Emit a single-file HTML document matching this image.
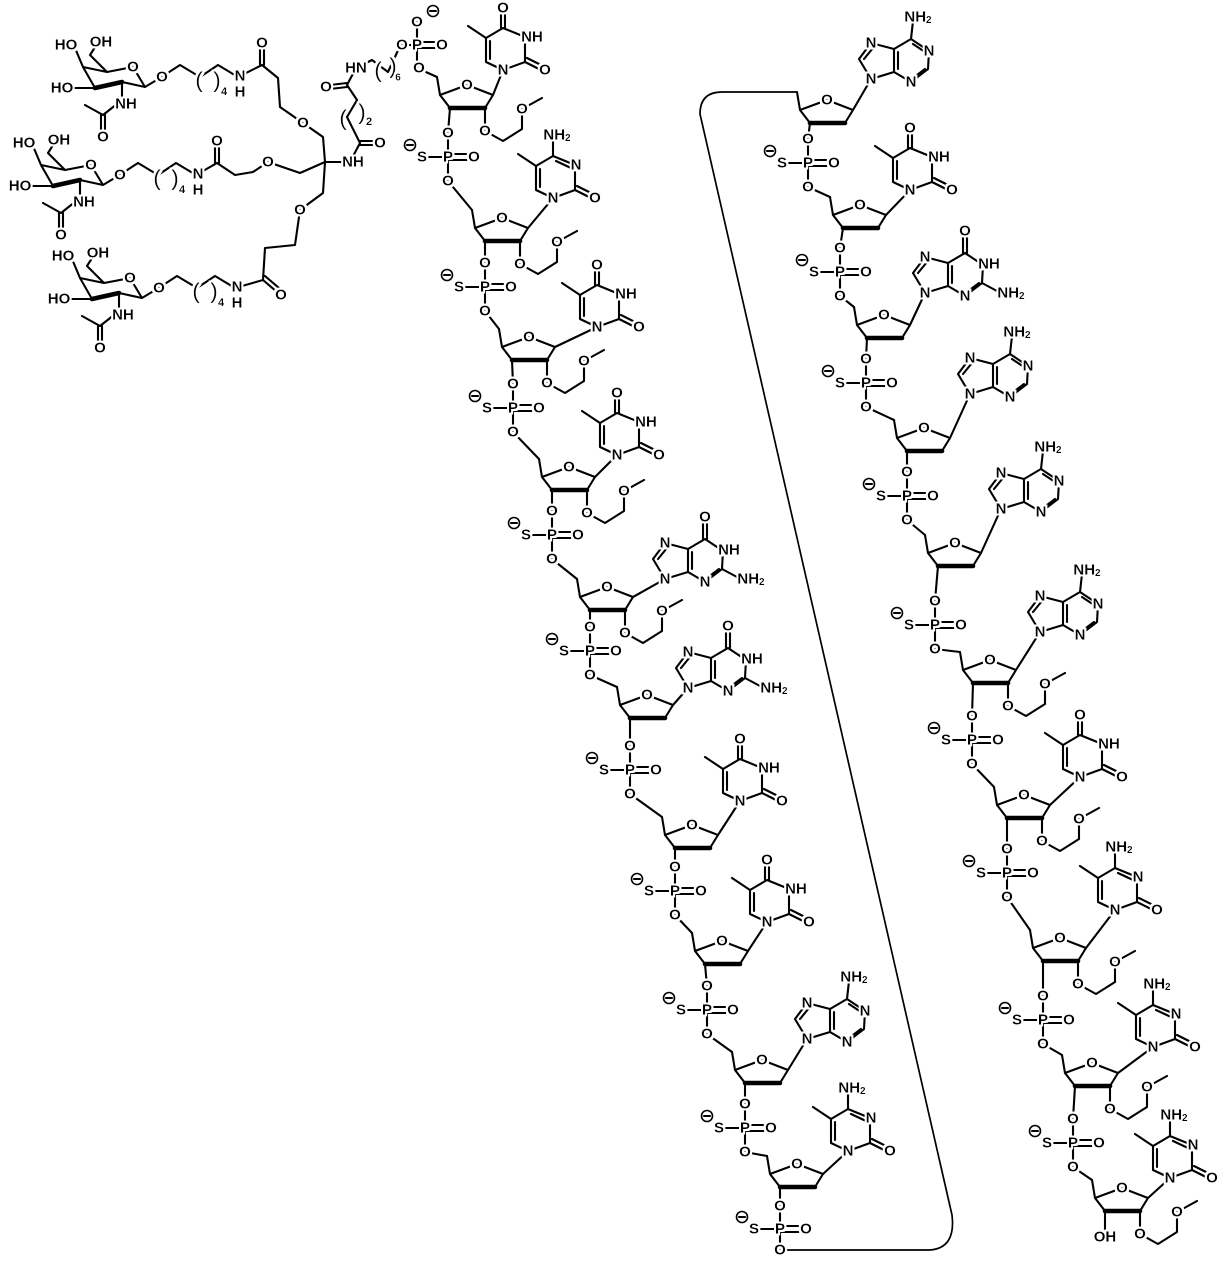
<!DOCTYPE html>
<html><head><meta charset="utf-8"><style>
html,body{margin:0;padding:0;background:#fff;}
svg{display:block}
text{font-family:"Liberation Sans",sans-serif;font-size:15px;font-weight:bold;text-anchor:middle;dominant-baseline:central;fill:#000;filter:url(#halo);}
.b{fill:none;stroke:#000;stroke-width:2.1;stroke-linejoin:round;stroke-linecap:round}
.w{fill:none;stroke:#000;stroke-width:4.6;stroke-linecap:round}
.m{fill:#fff;stroke:#000;stroke-width:1.6}
tspan.s{font-size:10px}
</style></head><body>
<svg width="1232" height="1265" viewBox="0 0 1232 1265" xmlns="http://www.w3.org/2000/svg">
<defs><filter id="halo" x="-30%" y="-30%" width="160%" height="160%"><feMorphology in="SourceAlpha" operator="dilate" radius="2.2" result="d"/><feFlood flood-color="#fff"/><feComposite in2="d" operator="in" result="h"/><feMerge><feMergeNode in="h"/><feMergeNode in="SourceGraphic"/></feMerge></filter></defs>

<!-- ================= LINKER ================= -->
<g>
<path class="b" d="M83,67 L107,72 L133,67 L145,87 L122,82 M95,88 L83,67 M83,67 L75,48 M107,72 L90,55 L97,44 M95,88 L75,88 M122,82 L122,100 L103,115 L85,105 M101,115 L101,132 M105,115 L105,132 M145,87 L160,78 L180,65 L200,77 L218,65 L238,77 L262,65 M260,65 L260,45 M264,65 L264,45 M262,65 L278,78 L280,107 L303,123 L323,137 L325,162"/>
<path class="w" d="M95,88 L122,82"/>
<text x="66" y="45">HO</text><text x="101" y="42">OH</text><text x="133" y="67">O</text><text x="62" y="88">HO</text>
<text x="126" y="104">NH</text><text x="103" y="137">O</text><text x="162" y="77">O</text>
<text x="240" y="76">N</text><text x="240" y="92">H</text><text x="262" y="43">O</text><text x="303" y="123">O</text>
<text x="199" y="80" style="font-size:22px;font-weight:normal">(</text><text x="217" y="80" style="font-size:22px;font-weight:normal">)</text><text x="224" y="92" style="font-size:11px">4</text>

<path class="b" d="M41,165 L65,170 L91,165 L103,185 L80,180 M53,186 L41,165 M41,165 L33,146 M65,170 L48,153 L55,142 M53,186 L33,186 M80,180 L80,198 L61,213 L43,203 M59,213 L59,230 M63,213 L63,230 M103,185 L118,176 L138,163 L158,175 L176,163 L196,175 L217,163 M215,163 L215,143 M219,163 L219,143 M217,163 L235,175 L253,172 L268,162 L300,173 L325,162"/>
<path class="w" d="M53,186 L80,180"/>
<text x="24" y="143">HO</text><text x="59" y="140">OH</text><text x="91" y="165">O</text><text x="20" y="186">HO</text>
<text x="84" y="202">NH</text><text x="61" y="235">O</text><text x="120" y="175">O</text>
<text x="198" y="174">N</text><text x="198" y="190">H</text><text x="217" y="141">O</text><text x="268" y="162">O</text>
<text x="157" y="178" style="font-size:22px;font-weight:normal">(</text><text x="175" y="178" style="font-size:22px;font-weight:normal">)</text><text x="182" y="190" style="font-size:11px">4</text>

<path class="b" d="M80,278 L104,283 L130,278 L142,298 L119,293 M92,299 L80,278 M80,278 L72,259 M104,283 L87,266 L94,255 M92,299 L72,299 M119,293 L119,311 L100,326 L82,316 M98,326 L98,343 M102,326 L102,343 M142,298 L157,289 L177,276 L197,288 L215,276 L235,288 L263,280 L277,292 M265,276 L279,288 M263,280 L265,248 L295,245 L300,210 L323,193 L325,162"/>
<path class="w" d="M92,299 L119,293"/>
<text x="63" y="256">HO</text><text x="98" y="253">OH</text><text x="130" y="278">O</text><text x="59" y="299">HO</text>
<text x="123" y="315">NH</text><text x="100" y="348">O</text><text x="159" y="288">O</text>
<text x="237" y="287">N</text><text x="237" y="303">H</text><text x="281" y="295">O</text><text x="300" y="210">O</text>
<text x="196" y="291" style="font-size:22px;font-weight:normal">(</text><text x="214" y="291" style="font-size:22px;font-weight:normal">)</text><text x="221" y="303" style="font-size:11px">4</text>

<path class="b" d="M325,162 L350,162 L360,143 M360,141 L376,141 M360,145 L376,145 M360,143 L347,117 L357,100 L347,85 M347,83 L330,85 M347,87 L330,89 M347,85 L356,68 L372,60 L388,72 L400,46"/>
<text x="353" y="162">NH</text><text x="380" y="143">O</text><text x="326" y="87">O</text><text x="356" y="68">HN</text>
<text x="343" y="118" style="font-size:22px;font-weight:normal">(</text><text x="362" y="112" style="font-size:22px;font-weight:normal">)</text><text x="369" y="122" style="font-size:11px">2</text>
<text x="378" y="70" style="font-size:22px;font-weight:normal">(</text><text x="393" y="66" style="font-size:22px;font-weight:normal">)</text><text x="398" y="78" style="font-size:10px">6</text>
<path class="b" d="M400,45 L417,45 L417,22 M417,45 L417,68 L437,77 M417,42 L440,42 M417,48 L440,48"/>
<text x="402" y="45">O</text><text x="417" y="45">P</text><text x="417" y="22">O</text><text x="442" y="45">O</text><text x="419" y="68">O</text>
<circle class="m" cx="433" cy="11" r="5.5"/><path class="b" d="M430,11 L436,11"/>
</g>

<!-- ================= BACKBONE CONNECTIONS ================= -->
<path class="b" d="
M450,108 L448,133 M448,181 L472,210
M485,241 L485,263 M485,311 L499,329
M512,360 L513,384 M513,432 L539,459
M552,490 L552,511 M552,559 L577,579
M590,610 L590,627 M590,675 L617,687
M630,718 L630,746 M630,794 L662,817
M675,848 L675,867 M675,915 L692,933
M705,964 L707,986 M707,1034 L732,1052
M745,1083 L745,1104 M745,1152 L767,1156
M780,1187 L780,1206
M810,123 L808,139 M808,187 L830,197
M843,228 L840,248 M840,296 L854,307
M867,338 L866,359 M866,407 L894,420
M907,451 L907,472 M907,520 L925,535
M938,566 L935,601 M935,649 L960,652
M973,683 L972,716 M972,764 L994,787
M1007,818 L1007,849 M1007,897 L1030,930
M1043,961 L1043,996 M1043,1044 L1062,1055
M1075,1086 L1073,1119 M1073,1167 L1092,1180
M1105,1211 L1105,1233"/>
<path class="b" style="stroke-width:1.7" d="M797,92 L722,92 Q700,92 700,114 L952,1215 Q956,1248 930,1250 L782,1250"/>
<text x="1105" y="1237">OH</text>

<!-- ================= PHOSPHATES ================= -->
<g>
<g transform="translate(448,157)"><path class="b" d="M0,-24 L0,24 M0,0 L-22,0 M0,-3 L22,-3 M0,3 L22,3"/><text x="0" y="-24">O</text><text x="0" y="24">O</text><text x="-26" y="0">S</text><text x="26" y="0">O</text><text x="0" y="0">P</text><circle class="m" cx="-38" cy="-12" r="5.5"/><path class="b" d="M-41,-12 L-35,-12"/></g>
<g transform="translate(485,287)"><path class="b" d="M0,-24 L0,24 M0,0 L-22,0 M0,-3 L22,-3 M0,3 L22,3"/><text x="0" y="-24">O</text><text x="0" y="24">O</text><text x="-26" y="0">S</text><text x="26" y="0">O</text><text x="0" y="0">P</text><circle class="m" cx="-38" cy="-12" r="5.5"/><path class="b" d="M-41,-12 L-35,-12"/></g>
<g transform="translate(513,408)"><path class="b" d="M0,-24 L0,24 M0,0 L-22,0 M0,-3 L22,-3 M0,3 L22,3"/><text x="0" y="-24">O</text><text x="0" y="24">O</text><text x="-26" y="0">S</text><text x="26" y="0">O</text><text x="0" y="0">P</text><circle class="m" cx="-38" cy="-12" r="5.5"/><path class="b" d="M-41,-12 L-35,-12"/></g>
<g transform="translate(552,535)"><path class="b" d="M0,-24 L0,24 M0,0 L-22,0 M0,-3 L22,-3 M0,3 L22,3"/><text x="0" y="-24">O</text><text x="0" y="24">O</text><text x="-26" y="0">S</text><text x="26" y="0">O</text><text x="0" y="0">P</text><circle class="m" cx="-38" cy="-12" r="5.5"/><path class="b" d="M-41,-12 L-35,-12"/></g>
<g transform="translate(590,651)"><path class="b" d="M0,-24 L0,24 M0,0 L-22,0 M0,-3 L22,-3 M0,3 L22,3"/><text x="0" y="-24">O</text><text x="0" y="24">O</text><text x="-26" y="0">S</text><text x="26" y="0">O</text><text x="0" y="0">P</text><circle class="m" cx="-38" cy="-12" r="5.5"/><path class="b" d="M-41,-12 L-35,-12"/></g>
<g transform="translate(630,770)"><path class="b" d="M0,-24 L0,24 M0,0 L-22,0 M0,-3 L22,-3 M0,3 L22,3"/><text x="0" y="-24">O</text><text x="0" y="24">O</text><text x="-26" y="0">S</text><text x="26" y="0">O</text><text x="0" y="0">P</text><circle class="m" cx="-38" cy="-12" r="5.5"/><path class="b" d="M-41,-12 L-35,-12"/></g>
<g transform="translate(675,891)"><path class="b" d="M0,-24 L0,24 M0,0 L-22,0 M0,-3 L22,-3 M0,3 L22,3"/><text x="0" y="-24">O</text><text x="0" y="24">O</text><text x="-26" y="0">S</text><text x="26" y="0">O</text><text x="0" y="0">P</text><circle class="m" cx="-38" cy="-12" r="5.5"/><path class="b" d="M-41,-12 L-35,-12"/></g>
<g transform="translate(707,1010)"><path class="b" d="M0,-24 L0,24 M0,0 L-22,0 M0,-3 L22,-3 M0,3 L22,3"/><text x="0" y="-24">O</text><text x="0" y="24">O</text><text x="-26" y="0">S</text><text x="26" y="0">O</text><text x="0" y="0">P</text><circle class="m" cx="-38" cy="-12" r="5.5"/><path class="b" d="M-41,-12 L-35,-12"/></g>
<g transform="translate(745,1128)"><path class="b" d="M0,-24 L0,24 M0,0 L-22,0 M0,-3 L22,-3 M0,3 L22,3"/><text x="0" y="-24">O</text><text x="0" y="24">O</text><text x="-26" y="0">S</text><text x="26" y="0">O</text><text x="0" y="0">P</text><circle class="m" cx="-38" cy="-12" r="5.5"/><path class="b" d="M-41,-12 L-35,-12"/></g>
<g transform="translate(780,1229)"><path class="b" d="M0,-23 L0,21 M0,0 L-22,0 M0,-3 L22,-3 M0,3 L22,3"/><text x="0" y="-23">O</text><text x="0" y="21">O</text><text x="-26" y="0">S</text><text x="26" y="0">O</text><text x="0" y="0">P</text><circle class="m" cx="-38" cy="-12" r="5.5"/><path class="b" d="M-41,-12 L-35,-12"/></g>

<g transform="translate(808,163)"><path class="b" d="M0,-24 L0,24 M0,0 L-22,0 M0,-3 L22,-3 M0,3 L22,3"/><text x="0" y="-24">O</text><text x="0" y="24">O</text><text x="-26" y="0">S</text><text x="26" y="0">O</text><text x="0" y="0">P</text><circle class="m" cx="-38" cy="-12" r="5.5"/><path class="b" d="M-41,-12 L-35,-12"/></g>
<g transform="translate(840,272)"><path class="b" d="M0,-24 L0,24 M0,0 L-22,0 M0,-3 L22,-3 M0,3 L22,3"/><text x="0" y="-24">O</text><text x="0" y="24">O</text><text x="-26" y="0">S</text><text x="26" y="0">O</text><text x="0" y="0">P</text><circle class="m" cx="-38" cy="-12" r="5.5"/><path class="b" d="M-41,-12 L-35,-12"/></g>
<g transform="translate(866,383)"><path class="b" d="M0,-24 L0,24 M0,0 L-22,0 M0,-3 L22,-3 M0,3 L22,3"/><text x="0" y="-24">O</text><text x="0" y="24">O</text><text x="-26" y="0">S</text><text x="26" y="0">O</text><text x="0" y="0">P</text><circle class="m" cx="-38" cy="-12" r="5.5"/><path class="b" d="M-41,-12 L-35,-12"/></g>
<g transform="translate(907,496)"><path class="b" d="M0,-24 L0,24 M0,0 L-22,0 M0,-3 L22,-3 M0,3 L22,3"/><text x="0" y="-24">O</text><text x="0" y="24">O</text><text x="-26" y="0">S</text><text x="26" y="0">O</text><text x="0" y="0">P</text><circle class="m" cx="-38" cy="-12" r="5.5"/><path class="b" d="M-41,-12 L-35,-12"/></g>
<g transform="translate(935,625)"><path class="b" d="M0,-24 L0,24 M0,0 L-22,0 M0,-3 L22,-3 M0,3 L22,3"/><text x="0" y="-24">O</text><text x="0" y="24">O</text><text x="-26" y="0">S</text><text x="26" y="0">O</text><text x="0" y="0">P</text><circle class="m" cx="-38" cy="-12" r="5.5"/><path class="b" d="M-41,-12 L-35,-12"/></g>
<g transform="translate(972,740)"><path class="b" d="M0,-24 L0,24 M0,0 L-22,0 M0,-3 L22,-3 M0,3 L22,3"/><text x="0" y="-24">O</text><text x="0" y="24">O</text><text x="-26" y="0">S</text><text x="26" y="0">O</text><text x="0" y="0">P</text><circle class="m" cx="-38" cy="-12" r="5.5"/><path class="b" d="M-41,-12 L-35,-12"/></g>
<g transform="translate(1007,873)"><path class="b" d="M0,-24 L0,24 M0,0 L-22,0 M0,-3 L22,-3 M0,3 L22,3"/><text x="0" y="-24">O</text><text x="0" y="24">O</text><text x="-26" y="0">S</text><text x="26" y="0">O</text><text x="0" y="0">P</text><circle class="m" cx="-38" cy="-12" r="5.5"/><path class="b" d="M-41,-12 L-35,-12"/></g>
<g transform="translate(1043,1020)"><path class="b" d="M0,-24 L0,24 M0,0 L-22,0 M0,-3 L22,-3 M0,3 L22,3"/><text x="0" y="-24">O</text><text x="0" y="24">O</text><text x="-26" y="0">S</text><text x="26" y="0">O</text><text x="0" y="0">P</text><circle class="m" cx="-38" cy="-12" r="5.5"/><path class="b" d="M-41,-12 L-35,-12"/></g>
<g transform="translate(1073,1143)"><path class="b" d="M0,-24 L0,24 M0,0 L-22,0 M0,-3 L22,-3 M0,3 L22,3"/><text x="0" y="-24">O</text><text x="0" y="24">O</text><text x="-26" y="0">S</text><text x="26" y="0">O</text><text x="0" y="0">P</text><circle class="m" cx="-38" cy="-12" r="5.5"/><path class="b" d="M-41,-12 L-35,-12"/></g>
</g>

<!-- ================= SUGARS ================= -->
<g transform="translate(440,95)"><path class="b" d="M-3,-18 L0,0 L27,-10 L53,0 L63,-25 M0,0 L10,13 M45,13 L53,0 M45,13 L45,36 L63,46 L82,34 L82,14 L102,3"/><path class="w" d="M10,13 L45,13"/><text x="27" y="-10">O</text><text x="45" y="36">O</text><text x="82" y="14">O</text></g>
<g transform="translate(475,228)"><path class="b" d="M-3,-18 L0,0 L27,-10 L53,0 L78,-30 M0,0 L10,13 M45,13 L53,0 M45,13 L45,36 L63,46 L82,34 L82,14 L102,3"/><path class="w" d="M10,13 L45,13"/><text x="27" y="-10">O</text><text x="45" y="36">O</text><text x="82" y="14">O</text></g>
<g transform="translate(502,347)"><path class="b" d="M-3,-18 L0,0 L27,-10 L53,0 L95,-20 M0,0 L10,13 M45,13 L53,0 M45,13 L45,36 L63,46 L82,34 L82,14 L102,3"/><path class="w" d="M10,13 L45,13"/><text x="27" y="-10">O</text><text x="45" y="36">O</text><text x="82" y="14">O</text></g>
<g transform="translate(542,477)"><path class="b" d="M-3,-18 L0,0 L27,-10 L53,0 L75,-22 M0,0 L10,13 M45,13 L53,0 M45,13 L45,36 L63,46 L82,34 L82,14 L102,3"/><path class="w" d="M10,13 L45,13"/><text x="27" y="-10">O</text><text x="45" y="36">O</text><text x="82" y="14">O</text></g>
<g transform="translate(580,597)"><path class="b" d="M-3,-18 L0,0 L27,-10 L53,0 L85,-18 M0,0 L10,13 M45,13 L53,0 M45,13 L45,36 L63,46 L82,34 L82,14 L102,3"/><path class="w" d="M10,13 L45,13"/><text x="27" y="-10">O</text><text x="45" y="36">O</text><text x="82" y="14">O</text></g>
<g transform="translate(620,705)"><path class="b" d="M-3,-18 L0,0 L27,-10 L53,0 L68,-17 M0,0 L10,13 M45,13 L53,0"/><path class="w" d="M10,13 L45,13"/><text x="27" y="-10">O</text></g>
<g transform="translate(665,835)"><path class="b" d="M-3,-18 L0,0 L27,-10 L53,0 L75,-34 M0,0 L10,13 M45,13 L53,0"/><path class="w" d="M10,13 L45,13"/><text x="27" y="-10">O</text></g>
<g transform="translate(695,951)"><path class="b" d="M-3,-18 L0,0 L27,-10 L53,0 L72,-29 M0,0 L10,13 M45,13 L53,0"/><path class="w" d="M10,13 L45,13"/><text x="27" y="-10">O</text></g>
<g transform="translate(735,1070)"><path class="b" d="M-3,-18 L0,0 L27,-10 L53,0 L72,-31 M0,0 L10,13 M45,13 L53,0"/><path class="w" d="M10,13 L45,13"/><text x="27" y="-10">O</text></g>
<g transform="translate(770,1174)"><path class="b" d="M-3,-18 L0,0 L27,-10 L53,0 L78,-23 M0,0 L10,13 M45,13 L53,0"/><path class="w" d="M10,13 L45,13"/><text x="27" y="-10">O</text></g>
<g transform="translate(800,110)"><path class="b" d="M-3,-18 L0,0 L27,-10 L53,0 L71,-31 M0,0 L10,13 M45,13 L53,0"/><path class="w" d="M10,13 L45,13"/><text x="27" y="-10">O</text></g>
<g transform="translate(833,215)"><path class="b" d="M-3,-18 L0,0 L27,-10 L53,0 L77,-25 M0,0 L10,13 M45,13 L53,0"/><path class="w" d="M10,13 L45,13"/><text x="27" y="-10">O</text></g>
<g transform="translate(857,325)"><path class="b" d="M-3,-18 L0,0 L27,-10 L53,0 L68,-32 M0,0 L10,13 M45,13 L53,0"/><path class="w" d="M10,13 L45,13"/><text x="27" y="-10">O</text></g>
<g transform="translate(897,438)"><path class="b" d="M-3,-18 L0,0 L27,-10 L53,0 L73,-44 M0,0 L10,13 M45,13 L53,0"/><path class="w" d="M10,13 L45,13"/><text x="27" y="-10">O</text></g>
<g transform="translate(928,553)"><path class="b" d="M-3,-18 L0,0 L27,-10 L53,0 L73,-44 M0,0 L10,13 M45,13 L53,0"/><path class="w" d="M10,13 L45,13"/><text x="27" y="-10">O</text></g>
<g transform="translate(963,670)"><path class="b" d="M-3,-18 L0,0 L27,-10 L53,0 L77,-38 M0,0 L10,13 M45,13 L53,0 M45,13 L45,36 L63,46 L82,34 L82,14 L102,3"/><path class="w" d="M10,13 L45,13"/><text x="27" y="-10">O</text><text x="45" y="36">O</text><text x="82" y="14">O</text></g>
<g transform="translate(997,805)"><path class="b" d="M-3,-18 L0,0 L27,-10 L53,0 L83,-28 M0,0 L10,13 M45,13 L53,0 M45,13 L45,36 L63,46 L82,34 L82,14 L102,3"/><path class="w" d="M10,13 L45,13"/><text x="27" y="-10">O</text><text x="45" y="36">O</text><text x="82" y="14">O</text></g>
<g transform="translate(1033,948)"><path class="b" d="M-3,-18 L0,0 L27,-10 L53,0 L82,-38 M0,0 L10,13 M45,13 L53,0 M45,13 L45,36 L63,46 L82,34 L82,14 L102,3"/><path class="w" d="M10,13 L45,13"/><text x="27" y="-10">O</text><text x="45" y="36">O</text><text x="82" y="14">O</text></g>
<g transform="translate(1065,1073)"><path class="b" d="M-3,-18 L0,0 L27,-10 L53,0 L88,-26 M0,0 L10,13 M45,13 L53,0 M45,13 L45,36 L63,46 L82,34 L82,14 L102,3"/><path class="w" d="M10,13 L45,13"/><text x="27" y="-10">O</text><text x="45" y="36">O</text><text x="82" y="14">O</text></g>
<g transform="translate(1095,1198)"><path class="b" d="M-3,-18 L0,0 L27,-10 L53,0 L75,-20 M0,0 L10,13 M45,13 L53,0 M45,13 L45,36 L63,46 L82,34 L82,14 L102,3"/><path class="w" d="M10,13 L45,13"/><text x="27" y="-10">O</text><text x="45" y="36">O</text><text x="82" y="14">O</text></g>

<!-- ================= BASES ================= -->
<g transform="translate(503,70)"><path class="b" d="M0,0 L-17,-8 L-17,-32 L0,-42 L22,-33 L22,-8 Z M-13,-11 L-13,-29 M-17,-32 L-35,-44 M-2,-42 L-2,-58 M2,-42 L2,-58 M22,-8 L38,0 M24,-12 L40,-4"/><text x="0" y="0">N</text><text x="29" y="-33">NH</text><text x="0" y="-62">O</text><text x="42" y="0">O</text></g>
<g transform="translate(597,327)"><path class="b" d="M0,0 L-17,-8 L-17,-32 L0,-42 L22,-33 L22,-8 Z M-13,-11 L-13,-29 M-17,-32 L-35,-44 M-2,-42 L-2,-58 M2,-42 L2,-58 M22,-8 L38,0 M24,-12 L40,-4"/><text x="0" y="0">N</text><text x="29" y="-33">NH</text><text x="0" y="-62">O</text><text x="42" y="0">O</text></g>
<g transform="translate(617,455)"><path class="b" d="M0,0 L-17,-8 L-17,-32 L0,-42 L22,-33 L22,-8 Z M-13,-11 L-13,-29 M-17,-32 L-35,-44 M-2,-42 L-2,-58 M2,-42 L2,-58 M22,-8 L38,0 M24,-12 L40,-4"/><text x="0" y="0">N</text><text x="29" y="-33">NH</text><text x="0" y="-62">O</text><text x="42" y="0">O</text></g>
<g transform="translate(740,801)"><path class="b" d="M0,0 L-17,-8 L-17,-32 L0,-42 L22,-33 L22,-8 Z M-13,-11 L-13,-29 M-17,-32 L-35,-44 M-2,-42 L-2,-58 M2,-42 L2,-58 M22,-8 L38,0 M24,-12 L40,-4"/><text x="0" y="0">N</text><text x="29" y="-33">NH</text><text x="0" y="-62">O</text><text x="42" y="0">O</text></g>
<g transform="translate(767,922)"><path class="b" d="M0,0 L-17,-8 L-17,-32 L0,-42 L22,-33 L22,-8 Z M-13,-11 L-13,-29 M-17,-32 L-35,-44 M-2,-42 L-2,-58 M2,-42 L2,-58 M22,-8 L38,0 M24,-12 L40,-4"/><text x="0" y="0">N</text><text x="29" y="-33">NH</text><text x="0" y="-62">O</text><text x="42" y="0">O</text></g>
<g transform="translate(910,190)"><path class="b" d="M0,0 L-17,-8 L-17,-32 L0,-42 L22,-33 L22,-8 Z M-13,-11 L-13,-29 M-17,-32 L-35,-44 M-2,-42 L-2,-58 M2,-42 L2,-58 M22,-8 L38,0 M24,-12 L40,-4"/><text x="0" y="0">N</text><text x="29" y="-33">NH</text><text x="0" y="-62">O</text><text x="42" y="0">O</text></g>
<g transform="translate(1080,777)"><path class="b" d="M0,0 L-17,-8 L-17,-32 L0,-42 L22,-33 L22,-8 Z M-13,-11 L-13,-29 M-17,-32 L-35,-44 M-2,-42 L-2,-58 M2,-42 L2,-58 M22,-8 L38,0 M24,-12 L40,-4"/><text x="0" y="0">N</text><text x="29" y="-33">NH</text><text x="0" y="-62">O</text><text x="42" y="0">O</text></g>
<g transform="translate(553,198)"><path class="b" d="M0,0 L-17,-8 L-17,-32 L0,-42 L22,-33 L22,-8 Z M-13,-11 L-13,-29 M-17,-32 L-35,-44 M0,-42 L0,-58 M3,-37 L18,-30 M22,-8 L38,0 M24,-12 L40,-4"/><text x="0" y="0">N</text><text x="23" y="-33">N</text><text x="4" y="-63">NH<tspan class="s" dy="3">2</tspan></text><text x="42" y="0">O</text></g>
<g transform="translate(848,1151)"><path class="b" d="M0,0 L-17,-8 L-17,-32 L0,-42 L22,-33 L22,-8 Z M-13,-11 L-13,-29 M-17,-32 L-35,-44 M0,-42 L0,-58 M3,-37 L18,-30 M22,-8 L38,0 M24,-12 L40,-4"/><text x="0" y="0">N</text><text x="23" y="-33">N</text><text x="4" y="-63">NH<tspan class="s" dy="3">2</tspan></text><text x="42" y="0">O</text></g>
<g transform="translate(1115,910)"><path class="b" d="M0,0 L-17,-8 L-17,-32 L0,-42 L22,-33 L22,-8 Z M-13,-11 L-13,-29 M-17,-32 L-35,-44 M0,-42 L0,-58 M3,-37 L18,-30 M22,-8 L38,0 M24,-12 L40,-4"/><text x="0" y="0">N</text><text x="23" y="-33">N</text><text x="4" y="-63">NH<tspan class="s" dy="3">2</tspan></text><text x="42" y="0">O</text></g>
<g transform="translate(1153,1047)"><path class="b" d="M0,0 L-17,-8 L-17,-32 L0,-42 L22,-33 L22,-8 Z M-13,-11 L-13,-29 M-17,-32 L-35,-44 M0,-42 L0,-58 M3,-37 L18,-30 M22,-8 L38,0 M24,-12 L40,-4"/><text x="0" y="0">N</text><text x="23" y="-33">N</text><text x="4" y="-63">NH<tspan class="s" dy="3">2</tspan></text><text x="42" y="0">O</text></g>
<g transform="translate(1170,1178)"><path class="b" d="M0,0 L-17,-8 L-17,-32 L0,-42 L22,-33 L22,-8 Z M-13,-11 L-13,-29 M-17,-32 L-35,-44 M0,-42 L0,-58 M3,-37 L18,-30 M22,-8 L38,0 M24,-12 L40,-4"/><text x="0" y="0">N</text><text x="23" y="-33">N</text><text x="4" y="-63">NH<tspan class="s" dy="3">2</tspan></text><text x="42" y="0">O</text></g>
<g transform="translate(807,1039)"><path class="b" d="M0,0 L-12,-20 L0,-36 L23,-30 L23,-7 Z M-7,-20 L2,-31 M27,-10 L27,-27 M23,-7 L40,3 L57,-10 L58,-28 L40,-40 L23,-30 M42,-35 L54,-27 M42,-1 L54,-10 M40,-40 L42,-58"/><text x="0" y="0">N</text><text x="0" y="-36">N</text><text x="40" y="3">N</text><text x="58" y="-28">N</text><text x="47" y="-62">NH<tspan class="s" dy="3">2</tspan></text></g>
<g transform="translate(871,79)"><path class="b" d="M0,0 L-12,-20 L0,-36 L23,-30 L23,-7 Z M-7,-20 L2,-31 M27,-10 L27,-27 M23,-7 L40,3 L57,-10 L58,-28 L40,-40 L23,-30 M42,-35 L54,-27 M42,-1 L54,-10 M40,-40 L42,-58"/><text x="0" y="0">N</text><text x="0" y="-36">N</text><text x="40" y="3">N</text><text x="58" y="-28">N</text><text x="47" y="-62">NH<tspan class="s" dy="3">2</tspan></text></g>
<g transform="translate(970,394)"><path class="b" d="M0,0 L-12,-20 L0,-36 L23,-30 L23,-7 Z M-7,-20 L2,-31 M27,-10 L27,-27 M23,-7 L40,3 L57,-10 L58,-28 L40,-40 L23,-30 M42,-35 L54,-27 M42,-1 L54,-10 M40,-40 L42,-58"/><text x="0" y="0">N</text><text x="0" y="-36">N</text><text x="40" y="3">N</text><text x="58" y="-28">N</text><text x="47" y="-62">NH<tspan class="s" dy="3">2</tspan></text></g>
<g transform="translate(1001,509)"><path class="b" d="M0,0 L-12,-20 L0,-36 L23,-30 L23,-7 Z M-7,-20 L2,-31 M27,-10 L27,-27 M23,-7 L40,3 L57,-10 L58,-28 L40,-40 L23,-30 M42,-35 L54,-27 M42,-1 L54,-10 M40,-40 L42,-58"/><text x="0" y="0">N</text><text x="0" y="-36">N</text><text x="40" y="3">N</text><text x="58" y="-28">N</text><text x="47" y="-62">NH<tspan class="s" dy="3">2</tspan></text></g>
<g transform="translate(1040,632)"><path class="b" d="M0,0 L-12,-20 L0,-36 L23,-30 L23,-7 Z M-7,-20 L2,-31 M27,-10 L27,-27 M23,-7 L40,3 L57,-10 L58,-28 L40,-40 L23,-30 M42,-35 L54,-27 M42,-1 L54,-10 M40,-40 L42,-58"/><text x="0" y="0">N</text><text x="0" y="-36">N</text><text x="40" y="3">N</text><text x="58" y="-28">N</text><text x="47" y="-62">NH<tspan class="s" dy="3">2</tspan></text></g>
<g transform="translate(665,579)"><path class="b" d="M0,0 L-12,-20 L0,-36 L23,-30 L23,-7 Z M-7,-20 L2,-31 M27,-10 L27,-27 M23,-7 L40,3 L57,-10 L58,-28 L40,-40 L23,-30 M42,-1 L54,-10 M38,-40 L38,-58 M42,-40 L42,-58 M57,-10 L72,-2"/><text x="0" y="0">N</text><text x="0" y="-36">N</text><text x="40" y="3">N</text><text x="64" y="-29">NH</text><text x="40" y="-62">O</text><text x="86" y="0">NH<tspan class="s" dy="3">2</tspan></text></g>
<g transform="translate(688,688)"><path class="b" d="M0,0 L-12,-20 L0,-36 L23,-30 L23,-7 Z M-7,-20 L2,-31 M27,-10 L27,-27 M23,-7 L40,3 L57,-10 L58,-28 L40,-40 L23,-30 M42,-1 L54,-10 M38,-40 L38,-58 M42,-40 L42,-58 M57,-10 L72,-2"/><text x="0" y="0">N</text><text x="0" y="-36">N</text><text x="40" y="3">N</text><text x="64" y="-29">NH</text><text x="40" y="-62">O</text><text x="86" y="0">NH<tspan class="s" dy="3">2</tspan></text></g>
<g transform="translate(925,293)"><path class="b" d="M0,0 L-12,-20 L0,-36 L23,-30 L23,-7 Z M-7,-20 L2,-31 M27,-10 L27,-27 M23,-7 L40,3 L57,-10 L58,-28 L40,-40 L23,-30 M42,-1 L54,-10 M38,-40 L38,-58 M42,-40 L42,-58 M57,-10 L72,-2"/><text x="0" y="0">N</text><text x="0" y="-36">N</text><text x="40" y="3">N</text><text x="64" y="-29">NH</text><text x="40" y="-62">O</text><text x="86" y="0">NH<tspan class="s" dy="3">2</tspan></text></g>

</svg>
</body></html>
